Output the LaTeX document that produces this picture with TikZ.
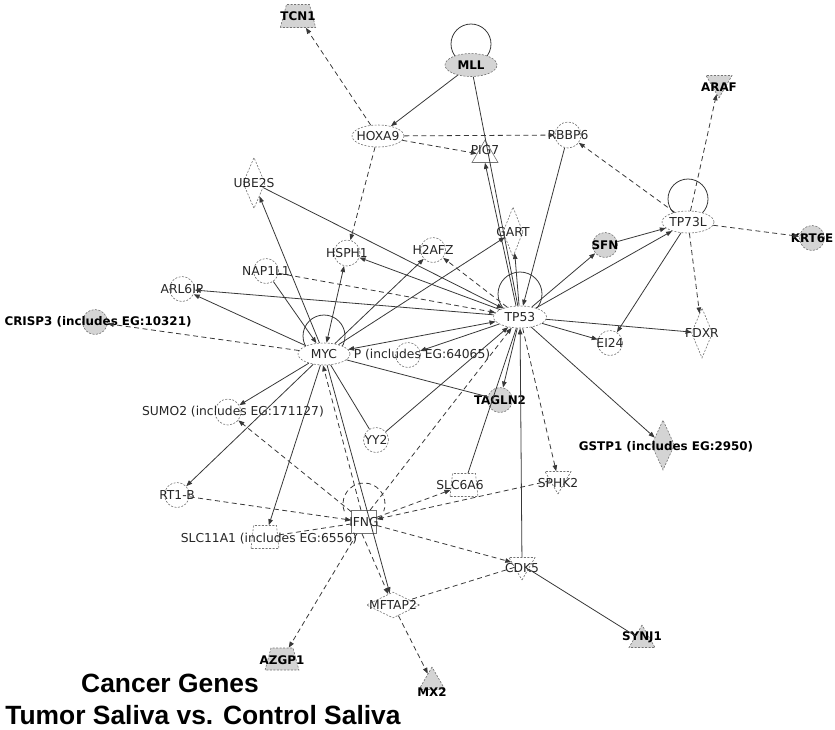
\documentclass[tikz,border=0pt]{standalone}
\usepackage{fontspec}
\setmainfont{DejaVu Sans}
\newfontfamily\titlefont{Liberation Sans}
\usetikzlibrary{shapes.geometric,arrows.meta,calc}
\pgfdeclarelayer{bg}
\pgfsetlayers{bg,main}
\tikzset{
 lbl/.style={inner sep=0pt, font=\fontsize{12.3}{14}\selectfont, text=black!85},
 blbl/.style={inner sep=0pt, font=\fontsize{11.9}{14}\selectfont\bfseries, text=black},
 gene/.style={draw=black!55, line width=0.6pt, dash pattern=on 2pt off 1.5pt, fill=white, inner sep=0pt},
 focus/.style={gene, fill=black!17},
 circ/.style={circle, minimum size=25pt},
 ell/.style={ellipse, minimum width=52pt, minimum height=22pt},
 dia/.style={diamond, minimum width=22pt, minimum height=51pt},
 tri/.style={regular polygon, regular polygon sides=3, minimum size=30pt},
 itri/.style={tri, shape border rotate=180},
 trap/.style={trapezium, inner sep=1pt, trapezium left angle=75, trapezium right angle=75, minimum width=25pt, minimum height=23pt},
 ln/.style={draw=black!78, line width=0.8pt},
 ar/.style={ln, -{Triangle[length=6pt,width=4.5pt]}},
 dar/.style={ar, dash pattern=on 5pt off 3.5pt},
 dln/.style={ln, dash pattern=on 5pt off 3.5pt},
 bar/.style={ln, {Triangle[length=6pt,width=4.5pt]}-{Triangle[length=6pt,width=4.5pt]}},
 title/.style={inner sep=0pt, font=\titlefont\bfseries\fontsize{26.4}{30}\selectfont, anchor=base},
}
\begin{document}
\begin{tikzpicture}[x=1pt,y=-1pt]
\useasboundingbox (0,0) rectangle (835,729);
% focus (grey) molecules
\node[focus, trap, label={[blbl]center:TCN1}] (tcn1) at (298,16) {};
\node[focus, ell, minimum height=23pt, label={[blbl]center:MLL}] (mll) at (471,65) {};
\node[focus, itri, label={[blbl,yshift=-4pt]center:ARAF}] (araf) at (719,83) {};
\node[focus, circ, label={[blbl]center:KRT6E}] (krt6e) at (812,238) {};
\node[focus, circ, label={[blbl]center:SFN}] (sfn) at (605,245) {};
\node[focus, circ, label={[blbl,xshift=3pt]center:CRISP3 (includes EG:10321)}] (crisp3) at (95,322) {};
\node[focus, circ, label={[blbl]center:TAGLN2}] (tagln2) at (500,400) {};
\node[focus, dia, minimum width=23pt, minimum height=50pt, label={[blbl,xshift=3pt,yshift=-2pt]center:GSTP1 (includes EG:2950)}] (gstp1) at (663,445) {};
\node[focus, tri, label={[blbl,yshift=-10pt]center:MX2}] (mx2) at (432,682) {};
\node[focus, tri, label={[blbl,yshift=3pt]center:SYNJ1}] (synj1) at (642,640) {};
\node[focus, trap, minimum width=22pt, minimum height=22pt, label={[blbl,yshift=-1pt]center:AZGP1}] (azgp1) at (282,659) {};
% other molecules
\node[gene, ell, label={[lbl]center:HOXA9}] (hoxa9) at (378,136) {};
\node[gene, tri, solid, label={[lbl,yshift=5pt]center:PIG7}] (pig7) at (485,155) {};
\node[gene, dia, label={[lbl]center:UBE2S}] (ube2s) at (254,183) {};
\node[gene, circ, minimum size=26pt, label={[lbl]center:RBBP6}] (rbbp6) at (568,135) {};
\node[gene, ell, label={[lbl]center:TP73L}] (tp73l) at (688,222) {};
\node[gene, dia, minimum width=20pt, minimum height=50pt, label={[lbl]center:GART}] (gart) at (513,232) {};
\node[gene, circ, label={[lbl]center:H2AFZ}] (h2afz) at (433,250) {};
\node[gene, circ, minimum size=26pt, label={[lbl]center:HSPH1}] (hsph1) at (347,253) {};
\node[gene, circ, label={[lbl]center:NAP1L1}] (nap1l1) at (266,271) {};
\node[gene, circ, label={[lbl]center:ARL6IP}] (arl6ip) at (182,289) {};
\node[gene, circ, label={[lbl,xshift=14pt]center:P (includes EG:64065)}] (perp) at (408,355) {};
\node[gene, ell, label={[lbl]center:MYC}] (myc) at (324,354) {};
\node[gene, ell, minimum width=53pt, label={[lbl]center:TP53}] (tp53) at (520,317) {};
\node[gene, circ, label={[lbl]center:EI24}] (ei24) at (610,343) {};
\node[gene, dia, minimum width=21pt, minimum height=50pt, label={[lbl]center:FDXR}] (fdxr) at (702,333) {};
\node[gene, circ, minimum size=26pt, label={[lbl,xshift=5pt]center:SUMO2 (includes EG:171127)}] (sumo2) at (228,412) {};
\node[gene, circ, label={[lbl]center:YY2}] (yy2) at (376,440) {};
\node[gene, circ, label={[lbl]center:RT1-B}] (rt1b) at (177,495) {};
\node[gene, rectangle, solid, minimum width=25pt, minimum height=23pt, label={[lbl]center:IFNG}] (ifng) at (364,522) {};
\node[gene, trap, trapezium left angle=84, trapezium right angle=84, label={[lbl,xshift=4pt,yshift=-2pt]center:SLC11A1 (includes EG:6556)}] (slc11a1) at (265,537) {};
\node[gene, trap, trapezium left angle=84, trapezium right angle=84, minimum width=22pt, label={[lbl,xshift=-4pt]center:SLC6A6}] (slc6a6) at (464,485) {};
\node[gene, itri, label={[lbl,yshift=-4pt]center:SPHK2}] (sphk2) at (558,479) {};
\node[gene, itri, label={[lbl,yshift=-3pt]center:CDK5}] (cdk5) at (522,565) {};
\node[gene, dia, minimum width=53pt, minimum height=26pt, label={[lbl]center:MFTAP2}] (mftap2) at (393,605) {};
% self loops
\begin{pgfonlayer}{bg}
\draw[ln] ([yshift=21pt]mll.center) circle[radius=20pt];
\draw[ln] ([yshift=18pt]myc.center) circle[radius=21pt];
\draw[ln] ([yshift=23pt]tp53.center) circle[radius=22pt];
\draw[ln] ([yshift=23pt]tp73l.center) circle[radius=20pt];
\draw[dln] ([yshift=18pt]ifng.center) ++(200:21pt) arc[start angle=200,end angle=-20,radius=21pt];
\end{pgfonlayer}
% connectors
\draw[dar] (hoxa9) -- (tcn1);
\draw[ar] (mll) -- (hoxa9);
\draw[ln] (mll) -- (tp53);
\draw[ar] ([xshift=-4pt]tp53.north) -- (pig7.south);
\draw[dar] (hoxa9) -- (rbbp6);
\draw[dar] (hoxa9) -- (pig7);
\draw[dar] (hoxa9) -- (hsph1);
\draw[dar] (tp73l) -- (rbbp6);
\draw[dar] (tp73l) -- (araf);
\draw[dar] (tp73l) -- (krt6e);
\draw[ar] (sfn) -- (tp73l);
\draw[ar] (tp53) -- (tp73l);
\draw[ar] (tp53) -- (sfn);
\draw[ar] (tp73l) -- (ei24);
\draw[dar] (tp73l) -- (fdxr);
\draw[ar] (tp53) -- (fdxr);
\draw[ar] (tp53) -- (ei24);
\draw[ar] (tp53) -- (gstp1);
\draw[ar] (rbbp6) -- (tp53);
\draw[ar] (tp53) -- (gart);
\draw[ar] (myc) -- (gart);
\draw[dar] (tp53) -- (h2afz);
\draw[ar] (myc) -- (h2afz);
\draw[ar] (ube2s) -- (tp53);
\draw[ar] (myc) -- (ube2s);
\draw[bar] (hsph1) -- (myc);
\draw[ar] (tp53) -- (hsph1);
\draw[dar] (nap1l1) -- (tp53);
\draw[ar] (nap1l1) -- (myc);
\draw[ar] (myc) -- (arl6ip);
\draw[ar] (tp53) -- (arl6ip);
\draw[dar] (myc) -- (crisp3);
\draw[bar] (myc) -- (tp53);
\draw[ar] (tp53) -- (perp);
\draw[ln] (myc) -- (tagln2);
\draw[ar] (tp53) -- (tagln2);
\draw[ln] (tp53) -- (slc6a6);
\draw[dar] (tp53) -- (sphk2);
\draw[ar] (cdk5) -- (tp53);
\draw[dar] ([xshift=6pt]ifng.north) -- (tp53);
\draw[ar] (yy2) -- (tp53);
\draw[ln] (myc) -- (yy2);
\draw[dar] (ifng) -- (slc6a6);
\draw[dar] (sphk2) -- (ifng);
\draw[dar] (ifng) -- (cdk5);
\draw[dln] (cdk5) -- (mftap2);
\draw[ln] (cdk5) -- (synj1);
\draw[dar] (mftap2) -- (mx2);
\draw[ar] (myc) -- (mftap2);
\draw[dar] ([xshift=-3pt]ifng.north) -- ([xshift=-1pt]myc.south);
\draw[dar] ([xshift=-2pt]ifng.south) -- (mftap2);
\draw[ar] (myc) -- (sumo2);
\draw[dar] (ifng) -- (sumo2);
\draw[ar] (myc) -- (rt1b);
\draw[dar] (rt1b) -- (ifng);
\draw[ar] (myc) -- (slc11a1);
\draw[dln] (ifng) -- (slc11a1);
\draw[dar] (ifng) -- (azgp1);
% title
\node[title] (t1) at (170,692) {Cancer Genes};
\node[title] (t2) at (203,724) {Tumor Saliva vs. Control Saliva};
\end{tikzpicture}
\end{document}
